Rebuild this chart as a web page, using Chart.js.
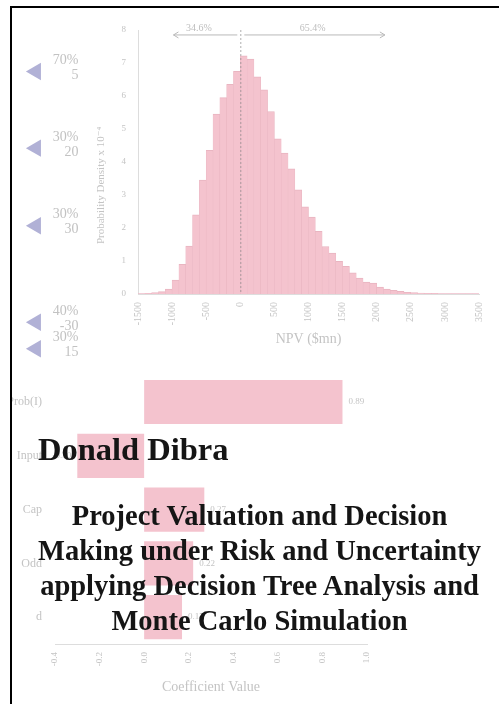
<!DOCTYPE html>
<html><head><meta charset="utf-8">
<script src="https://cdn.jsdelivr.net/npm/chart.js@4.4.0/dist/chart.umd.min.js"></script>
<style>
html,body{margin:0;padding:0;background:#fff;}
body{width:499px;height:704px;position:relative;overflow:hidden;}
canvas{position:absolute;display:block;}
#hist{left:0;top:0;}
#tree{left:12px;top:0;}
#coef{left:12px;top:355px;}
.frame{position:absolute;left:10px;top:6px;width:489px;height:698px;border-top:2px solid #000;border-left:2px solid #000;box-sizing:border-box;pointer-events:none;}
.author{position:absolute;left:38px;top:433px;font:bold 32.5px/32px "Liberation Serif","Times New Roman",serif;color:#151515;white-space:nowrap;}
.title{position:absolute;left:20px;right:0;top:498px;font:bold 28.5px/35px "Liberation Serif","Times New Roman",serif;color:#151515;text-align:center;white-space:nowrap;}
</style>
</head>
<body>
<canvas id="hist" width="499" height="360"></canvas>
<canvas id="tree" width="88" height="372"></canvas>
<canvas id="coef" width="487" height="349"></canvas>
<div class="frame"></div>
<div class="author">Donald Dibra</div>
<div class="title">Project Valuation and Decision<br>Making under Risk and Uncertainty<br>applying Decision Tree Analysis and<br>Monte Carlo Simulation</div>
<script>
// ---------- Histogram data (NPV distribution) ----------
const binWidth = 100;
const npvBinStart = [-1500,-1400,-1300,-1200,-1100,-1000,-900,-800,-700,-600,
  -500,-400,-300,-200,-100,0,100,200,300,400,
  500,600,700,800,900,1000,1100,1200,1300,1400,
  1500,1600,1700,1800,1900,2000,2100,2200,2300,2400,
  2500,2600,2700,2800,2900,3000,3100,3200,3300,3400];
const density = [0.01,0.02,0.04,0.07,0.15,0.42,0.90,1.45,2.40,3.45,
  4.35,5.45,5.95,6.35,6.75,7.22,7.12,6.58,6.19,5.53,
  4.70,4.27,3.79,3.16,2.64,2.33,1.90,1.44,1.24,0.99,
  0.84,0.64,0.48,0.36,0.33,0.21,0.15,0.11,0.08,0.05,
  0.04,0.03,0.02,0.02,0.01,0.01,0.01,0.01,0.01,0.01];
const npvTicks = [-1500,-1000,-500,0,500,1000,1500,2000,2500,3000,3500];
const densityTicks = [0,1,2,3,4,5,6,7,8];
const splitValue = 0;
const arrowExtent = [-980, 2120];
const arrowLevel = 7.85;
const shareLabels = ['34.6%', '65.4%'];

// ---------- Decision-tree fragment ----------
const nodeRow = [65, 146, 228, 330, 358];
const nodeProbs = ['70%', '30%', '30%', '40%', '30%'];
const nodePayoffs = ['5', '20', '30', '-30', '15'];

// ---------- Sensitivity (coefficient) data ----------
const driverNames = ['Prob(I)', 'Input', 'Cap', 'Odd', 'd'];
const coefValues = [0.89, -0.30, 0.27, 0.22, 0.17];
const coefTicks = [-0.4,-0.2,0.0,0.2,0.4,0.6,0.8,1.0];

const SERIF = "'Liberation Serif','DejaVu Serif',serif";
const FAINT = '#c4c4c4';
const PINK = '#f4c3ce';

const splitPlugin = {
  id: 'split',
  afterDatasetsDraw(chart) {
    const {ctx, chartArea, scales: {x, y}} = chart;
    const x0 = x.getPixelForValue(splitValue);
    const xl = x.getPixelForValue(arrowExtent[0]);
    const xr = x.getPixelForValue(arrowExtent[1]);
    const ya = y.getPixelForValue(arrowLevel);
    ctx.save();
    ctx.lineWidth = 1;
    ctx.strokeStyle = 'rgba(130,130,130,0.65)';
    ctx.setLineDash([2, 2]);
    ctx.beginPath();
    ctx.moveTo(x0 + 0.5, chartArea.top);
    ctx.lineTo(x0 + 0.5, chartArea.bottom);
    ctx.stroke();
    ctx.setLineDash([]);
    ctx.strokeStyle = '#b9b9b9';
    ctx.beginPath();
    ctx.moveTo(x0 - 3, ya); ctx.lineTo(xl, ya);
    ctx.moveTo(xl + 5, ya - 3); ctx.lineTo(xl, ya); ctx.lineTo(xl + 5, ya + 3);
    ctx.moveTo(x0 + 4, ya); ctx.lineTo(xr, ya);
    ctx.moveTo(xr - 5, ya - 3); ctx.lineTo(xr, ya); ctx.lineTo(xr - 5, ya + 3);
    ctx.stroke();
    ctx.fillStyle = '#bdbdbd';
    ctx.font = '10px ' + SERIF;
    ctx.textAlign = 'center';
    ctx.textBaseline = 'middle';
    ctx.fillText(shareLabels[0], (xl + x0) / 2 - 8, ya - 7);
    ctx.fillText(shareLabels[1], (x0 + xr) / 2, ya - 7);
    ctx.restore();
  }
};

new Chart(document.getElementById('hist'), {
  type: 'bar',
  data: {
    datasets: [{
      data: npvBinStart.map((s, i) => ({x: s + binWidth / 2, y: density[i]})),
      backgroundColor: PINK,
      borderColor: '#e9b5c1',
      borderWidth: {top: 1, left: 0.5, right: 0.5, bottom: 0},
      barPercentage: 1,
      categoryPercentage: 1
    }]
  },
  options: {
    responsive: false, animation: false, devicePixelRatio: 1,
    layout: {padding: {left: 0, right: 11, top: 30, bottom: 0}},
    plugins: {legend: {display: false}, tooltip: {enabled: false}},
    scales: {
      x: {
        type: 'linear', min: npvTicks[0], max: npvTicks[npvTicks.length - 1], offset: false,
        afterBuildTicks: s => { s.ticks = npvTicks.map(v => ({value: v})); },
        ticks: {autoSkip: false, minRotation: 90, maxRotation: 90, padding: 8, color: FAINT,
                font: {family: SERIF, size: 10}, callback: v => String(v)},
        grid: {display: false, drawTicks: false},
        border: {display: true, color: '#dddddd'},
        title: {display: true, text: 'NPV ($mn)', color: FAINT, font: {family: SERIF, size: 14},
                padding: {top: 0, bottom: 12}},
        afterFit: s => { s.height = 66; }
      },
      y: {
        min: 0, max: 8,
        afterBuildTicks: s => { s.ticks = densityTicks.map(v => ({value: v})); },
        ticks: {padding: 12, color: FAINT, font: {family: SERIF, size: 9}},
        grid: {display: false, drawTicks: false},
        border: {display: true, color: '#dddddd'},
        title: {display: true, text: 'Probability Density x 10\u207B\u2074                 ', color: FAINT,
                font: {family: SERIF, size: 11}, padding: {top: 95, bottom: 0}},
        afterFit: s => { s.width = 138; }
      }
    }
  },
  plugins: [splitPlugin]
});

const treeLabelPlugin = {
  id: 'treeLabels',
  afterDatasetsDraw(chart) {
    const {ctx} = chart;
    const meta = chart.getDatasetMeta(0);
    const tx = chart.scales.x.getPixelForValue(55);
    ctx.save();
    ctx.fillStyle = '#c2c2c2';
    ctx.font = '14px ' + SERIF;
    ctx.textAlign = 'right';
    ctx.textBaseline = 'middle';
    meta.data.forEach((pt, i) => {
      ctx.fillText(nodeProbs[i], tx, pt.y - 11);
      ctx.fillText(nodePayoffs[i], tx, pt.y + 4);
    });
    ctx.restore();
  }
};

new Chart(document.getElementById('tree'), {
  type: 'scatter',
  data: {datasets: [{
    data: nodeRow.map(r => ({x: 0, y: r})),
    pointStyle: 'triangle', rotation: -90, radius: 10,
    backgroundColor: '#b1b1d6', borderWidth: 0
  }]},
  options: {
    responsive: false, animation: false, devicePixelRatio: 1,
    layout: {padding: 0},
    plugins: {legend: {display: false}, tooltip: {enabled: false}},
    scales: {
      x: {display: false, min: -18, max: 70},
      y: {display: false, min: 0, max: 372, reverse: true}
    }
  },
  plugins: [treeLabelPlugin]
});

const valueLabelPlugin = {
  id: 'valueLabels',
  afterDatasetsDraw(chart) {
    const {ctx} = chart;
    const meta = chart.getDatasetMeta(0);
    ctx.save();
    ctx.fillStyle = FAINT;
    ctx.font = '9px ' + SERIF;
    ctx.textBaseline = 'middle';
    meta.data.forEach((bar, i) => {
      const v = coefValues[i];
      if (v >= 0) { ctx.textAlign = 'left'; ctx.fillText(v.toFixed(2), bar.x + 6, bar.y); }
      else { ctx.textAlign = 'right'; ctx.fillText(v.toFixed(2), bar.x - 6, bar.y); }
    });
    ctx.restore();
  }
};

new Chart(document.getElementById('coef'), {
  type: 'bar',
  data: {labels: driverNames, datasets: [{
    data: coefValues, backgroundColor: PINK, barPercentage: 0.82, categoryPercentage: 1
  }]},
  options: {
    indexAxis: 'y',
    responsive: false, animation: false, devicePixelRatio: 1,
    layout: {padding: {left: 0, right: 132, top: 9, bottom: 0}},
    plugins: {legend: {display: false}, tooltip: {enabled: false}},
    scales: {
      x: {
        min: coefTicks[0], max: coefTicks[coefTicks.length - 1],
        afterBuildTicks: s => { s.ticks = coefTicks.map(v => ({value: v})); },
        ticks: {autoSkip: false, minRotation: 90, maxRotation: 90, padding: 8, color: FAINT,
                font: {family: SERIF, size: 9}, callback: v => Number(v).toFixed(1)},
        grid: {display: false, drawTicks: false},
        border: {display: true, color: '#dddddd'},
        title: {display: true, text: 'Coefficient Value', color: FAINT, font: {family: SERIF, size: 14},
                padding: {top: 0, bottom: 8}},
        afterFit: s => { s.height = 60; }
      },
      y: {
        ticks: {padding: 13, color: FAINT, font: {family: SERIF, size: 12}},
        grid: {display: false, drawTicks: false},
        border: {display: false},
        afterFit: s => { s.width = 43; }
      }
    }
  },
  plugins: [valueLabelPlugin]
});
</script>
</body></html>
